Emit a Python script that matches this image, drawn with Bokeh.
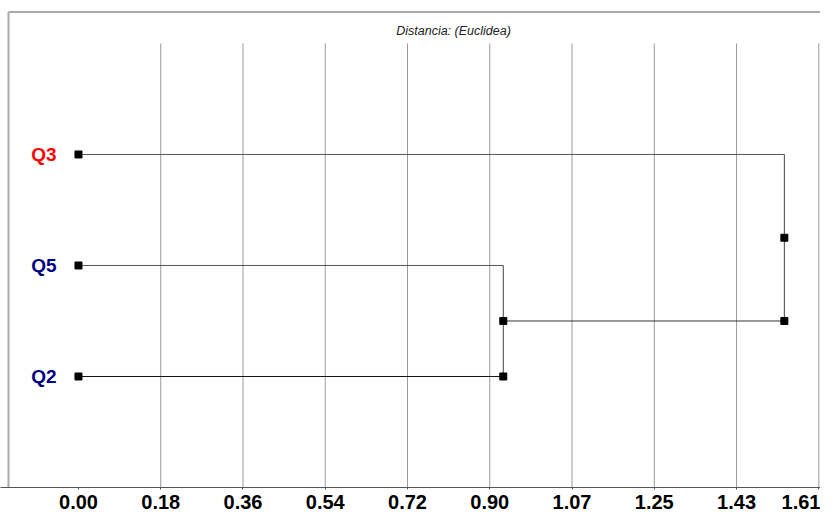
from bokeh.plotting import figure
from bokeh.models import FixedTicker, ColumnDataSource, Range1d
from bokeh.core.properties import value
from bokeh.embed import file_html
from bokeh.resources import INLINE
import numpy as np

# ---- data ----
leaves = ["Q3", "Q5", "Q2"]          # top to bottom
leaf_colors = ["#ff0000", "#000080", "#000080"]
leaf_pos = [3, 2, 1]
merge_heights = [0.925, 1.537]       # (Q5,Q2) then (Q3,(Q5,Q2))
tick_labels = ["0.00", "0.18", "0.36", "0.54", "0.72", "0.90", "1.07", "1.25", "1.43", "1.61"]
axis_max = 1.612
title_text = "Distancia: (Euclidea)"

FONT = "Liberation Sans"

p = figure(width=820, height=511, output_backend="svg", toolbar_location=None,
           x_range=Range1d(-0.1698, 1.6157), y_range=Range1d(0, 4.387),
           min_border_left=0, min_border_right=0, min_border_top=0, min_border_bottom=24)
p.outline_line_color = None
p.background_fill_color = "white"
p.border_fill_color = "white"

ticks = list(np.linspace(0, axis_max, len(tick_labels)))
p.xaxis.ticker = FixedTicker(ticks=ticks)
p.xaxis.major_label_overrides = {t: l for t, l in zip(ticks, tick_labels)}
p.xaxis.major_label_text_font = FONT
p.xaxis.major_label_text_font_style = "bold"
p.xaxis.major_label_text_font_size = "20px"
p.xaxis.major_label_text_color = "black"
p.xaxis.major_label_standoff = 5
p.xaxis.axis_line_color = "#555555"
p.xaxis.major_tick_line_color = "#555555"
p.xaxis.major_tick_out = 2
p.xaxis.major_tick_in = 0
p.xaxis.minor_tick_line_color = None
p.yaxis.visible = False
p.grid.visible = False

# frame border (top / left) and title
p.segment(x0=[-0.1524, -0.1524], y0=[4.284, 4.284], x1=[-0.1524, 2.0], y1=[-1, 4.284],
          line_color="#aaaaaa", line_width=2)
p.text(x=[0.8166], y=[4.108], text=[title_text], text_align="center", text_baseline="middle",
       text_font=value(FONT), text_font_style="italic", text_font_size="12.5px", text_color="#222222")

# vertical grid lines at the ticks (except 0)
gt = ticks[1:]
p.segment(x0=gt, y0=[0] * len(gt), x1=gt, y1=[4.0] * len(gt), line_color="#9a9a9a", line_width=1)

# ---- dendrogram geometry from the merge data ----
h1, h2 = merge_heights
y_q3, y_q5, y_q2 = leaf_pos
n1 = (y_q5 + y_q2) / 2
n2 = (y_q3 + n1) / 2

x0s = [0, 0, h1, h1, 0, h2]
x1s = [h1, h1, h1, h2, h2, h2]
y0s = [y_q5, y_q2, y_q2, n1, y_q3, n1]
y1s = [y_q5, y_q2, y_q5, n1, y_q3, y_q3]
cols = ["#555555", "#111111", "#444444", "#333333", "#555555", "#444444"]
p.segment(x0=x0s, y0=y0s, x1=x1s, y1=y1s, line_color=cols, line_width=1)

sq_x = [0, 0, 0, h1, h1, h2, h2]
sq_y = [y_q3, y_q5, y_q2, y_q2, n1, n1, n2]
p.scatter(sq_x, sq_y, marker="square", size=7, fill_color="black", line_color="black")

src = ColumnDataSource(dict(x=[0] * len(leaves), y=leaf_pos, t=leaves, c=leaf_colors))
p.text(x="x", y="y", text="t", text_color="c", source=src, x_offset=-22,
       text_align="right", text_baseline="middle", text_font=value(FONT),
       text_font_style="bold", text_font_size="19px")

open("out.html", "w").write(file_html(p, INLINE))
